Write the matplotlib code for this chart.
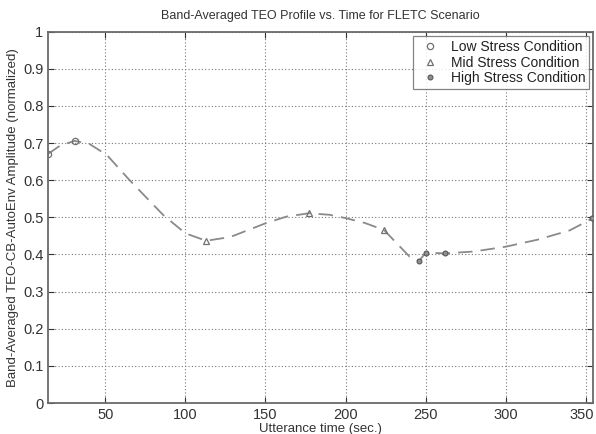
import matplotlib
matplotlib.use("Agg")
import matplotlib.pyplot as plt
import matplotlib.transforms as mtransforms

plt.rcParams['font.family'] = ['Liberation Sans', 'DejaVu Sans']

# curve samples
curve_x = [14, 22, 31, 40, 51, 65, 86, 100, 113, 128, 150, 163, 177, 190, 200, 212, 224, 236, 240, 246, 250, 262, 280, 300, 320, 340, 355]
curve_y = [0.670, 0.694, 0.706, 0.698, 0.668, 0.601, 0.507, 0.457, 0.437, 0.447, 0.484, 0.502, 0.511, 0.507, 0.498, 0.485, 0.466, 0.412, 0.394, 0.383, 0.405, 0.403, 0.408, 0.421, 0.440, 0.465, 0.499]

low_x = [14, 31]
low_y = [0.670, 0.706]
mid_x = [113, 177, 224]
mid_y = [0.437, 0.511, 0.466]
high_x = [246, 250, 262, 354]
high_y = [0.383, 0.405, 0.403, 0.499]

xticks = [50, 100, 150, 200, 250, 300, 350]
yticks = [0, 0.1, 0.2, 0.3, 0.4, 0.5, 0.6, 0.7, 0.8, 0.9, 1]
ytick_labels = ['0', '0.1', '0.2', '0.3', '0.4', '0.5', '0.6', '0.7', '0.8', '0.9', '1']

fig = plt.figure(figsize=(5.96, 4.34), dpi=100)
ax = fig.add_axes([0.081, 0.0714, 0.914, 0.8555])

tc = '#333333'
ax.plot(curve_x, curve_y, linestyle=(0, (8, 4.5)), color='#8a8a8a', lw=1.3, zorder=2)
l1, = ax.plot(low_x, low_y, linestyle='none', marker='o', ms=4.5, mfc='none', mec='#707070', mew=0.9, zorder=3, label='Low Stress Condition')
l2, = ax.plot(mid_x, mid_y, linestyle='none', marker='^', ms=5, mfc='none', mec='#707070', mew=0.9, zorder=3, label='Mid Stress Condition')
l3, = ax.plot(high_x, high_y, linestyle='none', marker='o', ms=3.5, mfc='#909090', mec='#555555', mew=0.8, zorder=3, label='High Stress Condition')

ax.set_xlim(14.4, 354.5)
ax.set_ylim(0, 1)
ax.set_xticks(xticks)
ax.set_yticks(yticks)
ax.set_yticklabels(ytick_labels)
ax.grid(True, linestyle=(0, (1, 2)), color='#777777', lw=0.8)
ax.tick_params(direction='in', length=4, colors=tc, labelsize=10.5, labelcolor=tc, width=0.8, top=True, right=True)
for s in ax.spines.values():
    s.set_color('#6a6a6a')
    s.set_linewidth(1.3)

# nudge the last x tick label so it stays inside the figure
last = ax.get_xticklabels()[-1]
last.set_transform(last.get_transform() + mtransforms.ScaledTranslation(-4 / 100, 0, fig.dpi_scale_trans))

ax.set_title('Band-Averaged TEO Profile vs. Time for FLETC Scenario', fontsize=9, color=tc, pad=9)
ax.set_xlabel('Utterance time (sec.)', fontsize=9.5, color=tc, labelpad=1)
ax.set_ylabel('Band-Averaged TEO-CB-AutoEnv Amplitude (normalized)', fontsize=9.5, color=tc, labelpad=3)

leg = ax.legend(handles=[l1, l2, l3], loc='upper right', fontsize=10, frameon=True, fancybox=False,
                borderpad=0.3, handletextpad=0.6, labelspacing=0.1, handlelength=1.8,
                bbox_to_anchor=(0.9935, 0.9885), borderaxespad=0)
leg.get_frame().set_edgecolor('#666666')
leg.get_frame().set_linewidth(0.9)
for t in leg.get_texts():
    t.set_color('#222222')

fig.savefig('out.png', dpi=100)
